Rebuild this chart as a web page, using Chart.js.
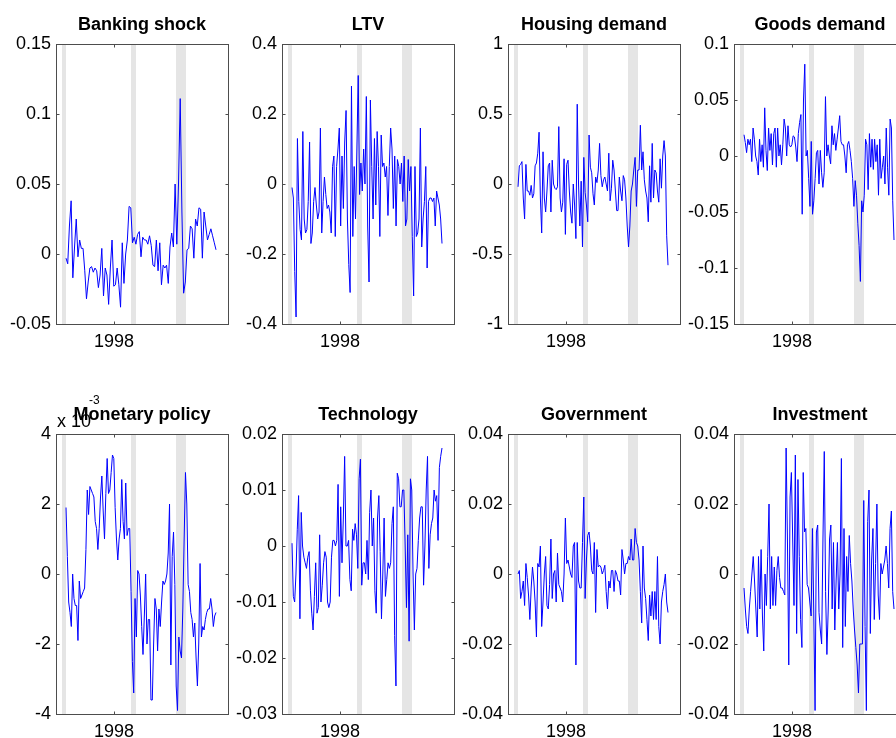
<!DOCTYPE html>
<html>
<head>
<meta charset="utf-8">
<title>Shocks</title>
<script src="https://cdn.jsdelivr.net/npm/chart.js@4.4.0/dist/chart.umd.min.js"></script>
<style>
  html, body { margin: 0; padding: 0; background: #fff; overflow: hidden; }
  #fig { position: relative; width: 896px; height: 738px; overflow: hidden; }
  #fig canvas { position: absolute; }
</style>
</head>
<body>
<div id="fig"></div>
<script>
// quarterly sample, roughly 1990 to 2015
const sampleStart = 1990;
const sampleEnd = 2015;
const xTicks = [1998];
const recessions = [[1989.33, 1990.0], [2000.83, 2001.67], [2008.33, 2010.0]];

const bankingShock = [-0.003,-0.007,0.02,0.038,-0.017,0.005,0.025,-0.002,0.01,0.004,0.004,-0.012,-0.032,-0.02,-0.01,-0.009,-0.013,-0.01,-0.012,-0.024,-0.015,0.004,-0.03,-0.01,-0.015,-0.036,-0.01,0.01,-0.023,-0.022,-0.01,-0.022,-0.038,0.008,-0.021,0.0,0.01,0.034,0.033,0.008,0.012,0.007,0.014,0.016,-0.002,0.012,0.01,0.01,0.007,0.013,0.006,-0.008,-0.009,0.01,-0.012,0.008,-0.022,-0.008,-0.01,-0.008,-0.021,0.005,0.015,0.005,0.05,0.007,0.05,0.111,0.03,-0.028,-0.02,0.003,0.004,0.02,0.018,-0.003,0.025,0.02,0.033,0.032,-0.003,0.03,0.02,0.01,0.014,0.018,0.013,0.008,0.003];
const ltv = [-0.01,-0.04,-0.25,-0.38,0.13,-0.05,-0.13,-0.16,0.15,-0.1,-0.14,-0.13,-0.05,0.12,-0.17,-0.14,-0.05,-0.01,-0.06,-0.1,-0.08,0.16,-0.14,-0.05,0.02,-0.03,-0.07,-0.06,-0.08,-0.14,0.05,0.08,-0.15,0.05,0.1,0.16,-0.12,0.08,-0.07,0.12,0.21,-0.1,-0.23,-0.31,0.28,-0.15,0.05,-0.1,0.1,0.31,-0.03,0.06,-0.02,0.1,0.0,0.25,-0.12,-0.28,0.24,0.05,-0.1,0.13,-0.06,0.15,0.05,-0.15,0.14,0.05,0.06,0.02,0.05,-0.09,0.05,0.16,0.1,-0.07,0.08,-0.12,0.07,0.05,0.0,0.06,-0.05,0.08,-0.12,-0.1,0.07,-0.02,0.05,-0.15,-0.32,0.05,-0.15,-0.14,-0.1,0.16,-0.18,-0.1,-0.05,0.05,-0.24,-0.05,-0.04,-0.04,-0.05,-0.04,-0.12,-0.02,-0.04,-0.06,-0.1,-0.17];
const housingDemand = [-0.02,0.13,0.14,0.16,-0.1,-0.25,0.14,-0.05,-0.05,-0.08,-0.01,-0.1,-0.07,0.13,0.15,0.22,0.37,-0.1,-0.35,0.23,-0.1,-0.2,-0.05,0.13,0.15,-0.2,0.17,0.0,-0.03,-0.04,-0.02,0.41,-0.1,-0.2,-0.13,0.18,-0.36,0.14,0.17,-0.05,-0.2,-0.28,0.0,-0.15,-0.39,0.57,0.0,-0.3,0.02,-0.45,0.19,-0.06,-0.15,-0.27,0.35,0.12,0.08,-0.07,-0.15,0.05,0.01,0.1,0.29,0.06,-0.02,0.03,0.05,0.0,-0.05,0.22,-0.12,-0.03,0.17,0.1,-0.05,-0.19,-0.19,0.05,-0.05,-0.12,0.06,0.03,-0.1,-0.3,-0.45,-0.3,-0.05,0.0,0.1,0.19,-0.16,0.1,0.1,0.42,0.1,0.23,0.03,-0.05,-0.1,-0.27,0.13,-0.13,0.29,-0.1,0.1,0.08,-0.05,-0.13,0.18,-0.03,0.2,0.31,0.2,-0.37,-0.58];
const goodsDemand = [0.019,0.012,0.003,0.015,0.01,0.015,-0.005,0.025,0.015,0.0,-0.005,-0.017,0.015,-0.005,0.01,-0.01,0.043,0.005,-0.013,0.025,0.005,0.02,-0.008,0.02,0.025,-0.01,0.025,0.0,0.01,-0.008,0.01,0.033,0.025,0.0,0.027,0.01,0.008,0.01,0.018,0.017,0.008,-0.005,0.02,0.03,0.037,-0.052,0.05,0.082,0.0,0.005,-0.02,-0.045,0.013,-0.052,-0.04,-0.02,0.003,0.005,-0.025,0.005,-0.015,-0.028,-0.015,0.053,0.0,0.01,0.0,-0.007,0.027,0.01,0.02,0.005,0.015,0.025,0.036,0.013,0.01,0.01,0.0,-0.015,0.01,0.013,0.005,-0.005,-0.02,-0.045,-0.022,-0.035,-0.06,-0.08,-0.112,-0.04,-0.05,-0.035,0.015,0.01,-0.03,0.02,-0.01,0.015,-0.012,0.015,-0.005,0.01,-0.035,0.015,-0.02,-0.01,0.0,-0.025,0.025,-0.01,-0.035,0.033,0.025,-0.04,-0.075];
// monetary policy is in units of 1e-3
const monetaryPolicy = [1.9,0.5,-0.8,-1.1,-1.5,0.0,-0.7,-0.9,-0.9,-1.9,-0.2,-0.7,-0.6,-0.5,-0.4,0.7,2.4,1.7,2.5,2.4,2.3,2.2,1.5,1.3,0.7,1.3,2.2,2.8,1.8,1.0,2.3,3.3,2.3,2.4,2.9,3.4,3.3,1.9,1.0,0.4,1.0,1.3,2.7,1.5,1.0,2.6,1.1,1.3,1.3,-0.5,-2.5,-3.4,-0.7,-1.8,0.1,0.0,-0.6,-1.5,-2.3,-1.2,0.0,-2.0,-1.3,-1.3,-3.6,-3.6,-2.0,-0.7,-1.0,-2.2,-1.0,-1.5,-0.8,-0.2,-0.3,-0.2,0.0,0.6,2.0,-2.6,0.5,1.2,-0.3,-3.2,-3.9,-1.8,-2.2,-2.4,-1.0,1.0,2.9,2.0,-0.3,-0.5,-1.1,-1.3,-1.8,-1.4,-2.4,-3.2,-2.0,0.3,-1.8,-1.5,-1.6,-1.3,-1.1,-1.0,-1.0,-0.7,-1.0,-1.5,-1.2,-1.1];
const technology = [0.0005,-0.009,-0.01,-0.005,0.003,0.009,-0.013,0.006,0.0,-0.002,-0.003,-0.004,-0.002,-0.001,-0.008,-0.012,-0.015,-0.009,-0.003,-0.012,-0.011,0.002,-0.01,-0.007,-0.003,-0.001,-0.002,-0.01,-0.011,-0.01,-0.002,0.001,0.001,0.0,0.001,0.011,-0.009,0.007,-0.003,0.005,0.016,0.0,0.0,0.001,-0.006,-0.008,0.003,0.001,0.004,0.002,-0.004,0.012,0.0155,-0.007,-0.003,-0.003,-0.005,0.001,-0.006,0.006,0.01,0.0,0.005,-0.008,-0.012,0.005,0.009,-0.001,-0.013,-0.005,0.005,-0.009,-0.006,-0.003,-0.004,-0.003,0.004,0.007,-0.016,-0.025,0.013,0.012,0.007,0.007,0.01,0.01,0.0,-0.011,0.002,-0.017,0.012,0.01,-0.005,-0.015,-0.005,-0.004,0.001,0.005,0.007,0.007,-0.007,0.0,0.01,0.016,-0.004,0.002,0.004,0.005,0.01,0.008,0.009,0.001,0.014,0.016,0.0175];
const government = [0.0,0.001,-0.007,-0.005,-0.002,-0.009,0.003,-0.001,-0.006,-0.013,-0.004,0.002,-0.002,-0.008,-0.018,0.003,0.002,0.008,-0.015,-0.008,0.0,0.005,-0.009,-0.01,-0.003,0.01,-0.007,0.0,0.001,-0.008,0.006,-0.003,-0.004,-0.005,-0.008,0.0,0.016,0.003,0.004,0.002,0.0,-0.001,0.008,0.009,-0.026,0.009,-0.002,-0.004,-0.004,0.009,0.022,-0.007,0.004,0.011,0.012,0.008,0.001,0.0,0.009,-0.011,0.007,0.002,0.0025,0.002,0.0,0.001,0.0025,-0.005,-0.01,-0.002,-0.004,0.001,0.001,-0.005,0.001,0.0,-0.002,-0.002,-0.006,0.007,0.004,0.0,0.003,0.003,0.005,0.004,0.01,0.004,0.004,0.013,0.009,0.008,0.004,-0.005,-0.014,0.008,-0.004,-0.007,-0.013,-0.019,-0.006,-0.012,-0.005,-0.013,-0.005,-0.013,0.005,-0.015,-0.02,-0.008,-0.005,-0.003,0.0,-0.008,-0.011];
const investment = [-0.004,-0.01,-0.015,-0.017,-0.01,-0.005,0.0,0.005,-0.002,-0.01,-0.018,0.005,-0.01,0.007,-0.012,-0.022,0.0,-0.009,0.005,0.02,-0.01,0.005,-0.009,0.002,-0.009,0.001,0.005,-0.001,-0.004,-0.004,-0.005,-0.006,0.036,0.01,-0.026,0.022,0.029,0.01,-0.009,0.034,-0.017,0.027,0.005,-0.013,-0.021,0.029,0.012,0.013,-0.003,-0.004,-0.008,-0.012,0.013,-0.01,-0.039,0.012,0.014,-0.011,-0.016,-0.02,0.01,0.035,-0.005,-0.023,-0.01,0.01,0.014,-0.01,0.009,-0.016,-0.002,0.009,-0.01,0.0,0.033,-0.021,0.013,-0.015,0.005,-0.005,0.011,0.003,-0.002,-0.01,-0.016,-0.021,-0.026,-0.034,-0.02,-0.02,-0.02,0.021,-0.015,-0.039,0.015,0.024,-0.017,0.004,0.013,-0.013,0.003,0.02,-0.006,-0.013,0.003,0.0,0.002,0.004,0.008,0.003,-0.004,0.013,0.018,-0.005,-0.01];

const titles = ['Banking shock', 'LTV', 'Housing demand', 'Goods demand',
                'Monetary policy', 'Technology', 'Government', 'Investment'];
const seriesList = [bankingShock, ltv, housingDemand, goodsDemand,
                    monetaryPolicy, technology, government, investment];
const yTickSets = [
  [-0.05, 0, 0.05, 0.1, 0.15],
  [-0.4, -0.2, 0, 0.2, 0.4],
  [-1, -0.5, 0, 0.5, 1],
  [-0.15, -0.1, -0.05, 0, 0.05, 0.1],
  [-4, -2, 0, 2, 4],
  [-0.03, -0.02, -0.01, 0, 0.01, 0.02],
  [-0.04, -0.02, 0, 0.02, 0.04],
  [-0.04, -0.02, 0, 0.02, 0.04]
];

// layout (px)
const colLeft = [56, 282, 508, 734];
const rowTop = [44, 434];
const plotW = 172, plotH = 280;
const yAxisW = 56, xAxisH = 30;
const canvasW = 240, canvasH = 360;
const FONT = "'Liberation Sans', Arial, Helvetica, sans-serif";

function withDates(values) {
  const step = (sampleEnd - sampleStart) / (values.length - 1);
  return values.map((v, i) => ({ x: sampleStart + i * step, y: v }));
}

function fmt(v) {
  const r = Math.round(v * 1e6) / 1e6;
  return r === 0 ? '0' : String(r);
}

const panelDeco = {
  id: 'panelDeco',
  beforeDatasetsDraw(chart) {
    const { ctx, chartArea: a, scales: { x } } = chart;
    ctx.save();
    ctx.fillStyle = '#e5e5e5';
    recessions.forEach(([s, e]) => {
      const x0 = Math.max(x.getPixelForValue(s), a.left);
      const x1 = Math.min(x.getPixelForValue(e), a.right);
      if (x1 > x0) ctx.fillRect(x0, a.top, x1 - x0, a.bottom - a.top);
    });
    ctx.restore();
  },
  afterDatasetsDraw(chart, args, opts) {
    const { ctx, chartArea: a, scales: { x, y } } = chart;
    const L = Math.round(a.left) + 0.5, R = Math.round(a.right) + 0.5;
    const T = Math.round(a.top) + 0.5, B = Math.round(a.bottom) + 0.5;
    const tk = 3;
    ctx.save();
    ctx.strokeStyle = '#4d4d4d';
    ctx.lineWidth = 1;
    ctx.strokeRect(L, T, R - L, B - T);
    ctx.beginPath();
    y.ticks.forEach(t => {
      const py = Math.round(y.getPixelForValue(t.value)) + 0.5;
      ctx.moveTo(L, py); ctx.lineTo(L + tk, py);
      ctx.moveTo(R, py); ctx.lineTo(R - tk, py);
    });
    x.ticks.forEach(t => {
      const px = Math.round(x.getPixelForValue(t.value)) + 0.5;
      ctx.moveTo(px, B); ctx.lineTo(px, B - tk);
      ctx.moveTo(px, T); ctx.lineTo(px, T + tk);
    });
    ctx.stroke();

    ctx.fillStyle = '#000';
    if (opts.exponent) {
      ctx.textAlign = 'left';
      ctx.textBaseline = 'alphabetic';
      ctx.font = '18px ' + FONT;
      ctx.fillText('x 10', a.left + 1, a.top - 7);
      ctx.font = '12px ' + FONT;
      ctx.fillText(opts.exponent, a.left + 33, a.top - 30);
    }
    ctx.font = 'bold 18px ' + FONT;
    ctx.textAlign = 'center';
    ctx.textBaseline = 'alphabetic';
    ctx.fillText(opts.title, (a.left + a.right) / 2, a.top - 14);
    ctx.restore();
  }
};

const fig = document.getElementById('fig');

seriesList.forEach((values, i) => {
  const col = i % 4, row = Math.floor(i / 4);
  const cv = document.createElement('canvas');
  cv.width = canvasW; cv.height = canvasH;
  cv.style.width = canvasW + 'px'; cv.style.height = canvasH + 'px';
  cv.style.left = (colLeft[col] - yAxisW) + 'px';
  cv.style.top = (rowTop[row] - 44) + 'px';
  fig.appendChild(cv);

  const yt = yTickSets[i];
  new Chart(cv, {
    type: 'line',
    data: {
      datasets: [{
        data: withDates(values),
        borderColor: '#0000ff',
        borderWidth: 1,
        pointRadius: 0,
        tension: 0,
        fill: false
      }]
    },
    options: {
      responsive: false,
      animation: false,
      devicePixelRatio: 1,
      layout: {
        padding: { left: 0, top: 44, right: canvasW - yAxisW - plotW, bottom: canvasH - 44 - plotH - xAxisH }
      },
      plugins: {
        legend: { display: false },
        tooltip: { enabled: false },
        title: { display: false },
        panelDeco: { title: titles[i], exponent: i === 4 ? '-3' : null }
      },
      scales: {
        x: {
          type: 'linear',
          min: 1988.33,
          max: 2017.0,
          grid: { display: false, drawTicks: false, tickLength: 0 },
          border: { display: false },
          afterBuildTicks: s => { s.ticks = xTicks.map(v => ({ value: v })); },
          afterFit: s => { s.height = xAxisH; },
          ticks: {
            autoSkip: false,
            maxRotation: 0,
            padding: 7,
            color: '#000',
            font: { family: FONT, size: 18 },
            callback: v => String(v)
          }
        },
        y: {
          min: yt[0],
          max: yt[yt.length - 1],
          grid: { display: false, drawTicks: false, tickLength: 0 },
          border: { display: false },
          afterBuildTicks: s => { s.ticks = yt.map(v => ({ value: v })); },
          afterFit: s => { s.width = yAxisW; },
          ticks: {
            autoSkip: false,
            padding: 5,
            color: '#000',
            font: { family: FONT, size: 18 },
            callback: v => fmt(v)
          }
        }
      }
    },
    plugins: [panelDeco]
  });
});
</script>
</body>
</html>
